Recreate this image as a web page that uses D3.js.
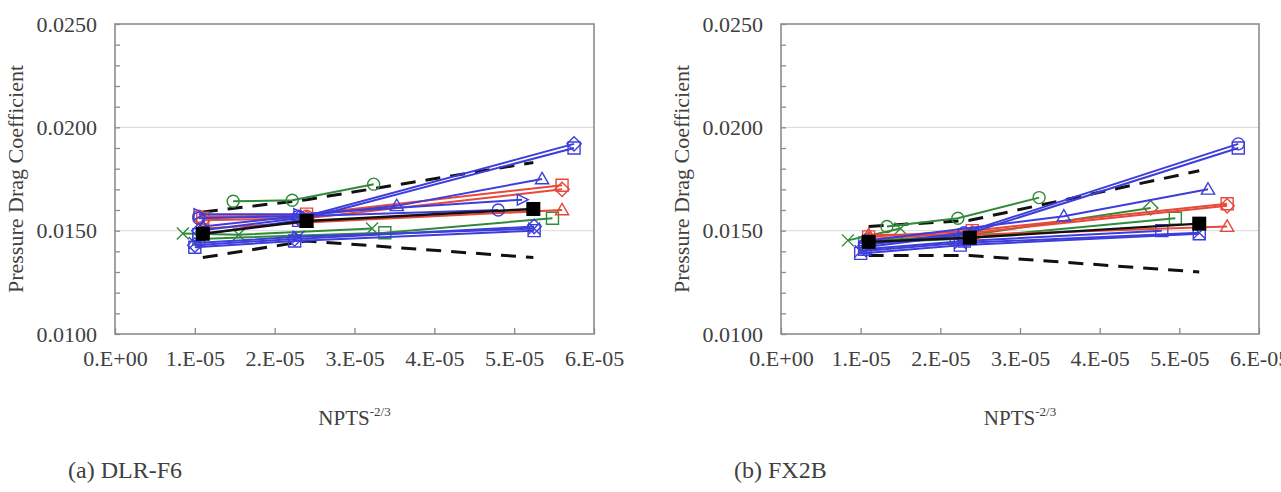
<!DOCTYPE html>
<html><head><meta charset="utf-8">
<script src="https://cdn.jsdelivr.net/npm/d3@7"></script>
<style>
body{margin:0;background:#fff}
svg{display:block}
text{font-family:"Liberation Serif","Times New Roman",serif;fill:#404040}
</style>
</head><body>
<svg id="c" width="1281" height="492"></svg>
<script>
// ---------- tick labels ----------
const xTickValues = [0, 1e-5, 2e-5, 3e-5, 4e-5, 5e-5, 6e-5];
const xTickLabels = ["0.E+00","1.E-05","2.E-05","3.E-05","4.E-05","5.E-05","6.E-05"];
const yTickValues = [0.0100, 0.0150, 0.0200, 0.0250];
const yTickLabels = ["0.0100","0.0150","0.0200","0.0250"];
const yMinorTicks = [0.011,0.012,0.013,0.014,0.016,0.017,0.018,0.019,0.021,0.022,0.023,0.024];
const panelCaptions = ["(a) DLR-F6", "(b) FX2B"];

// ---------- (a) DLR-F6 series: [NPTS^-2/3, CDp] ----------
const f6_blueDiamondHi = [[1.05e-5,0.0150],[2.3e-5,0.0156],[5.75e-5,0.0192]];
const f6_blueSquareHi  = [[1.05e-5,0.0148],[2.3e-5,0.0155],[5.75e-5,0.0190]];
const f6_blueTriangle  = [[1.1e-5,0.0152],[3.53e-5,0.0162],[5.35e-5,0.0175]];
const f6_redSquare     = [[1.1e-5,0.0156],[2.4e-5,0.0158],[5.6e-5,0.0172]];
const f6_redDiamond    = [[1.1e-5,0.0155],[2.4e-5,0.0156],[5.6e-5,0.0170]];
const f6_blueTriSmall  = [[1.05e-5,0.0158],[2.3e-5,0.0158],[5.1e-5,0.0165]];
const f6_blueCircle    = [[1.05e-5,0.0156],[2.3e-5,0.0157],[4.8e-5,0.0160]];
const f6_redTriangle   = [[1.1e-5,0.0151],[2.4e-5,0.0154],[5.6e-5,0.0160]];
const f6_redCircle     = [[1.05e-5,0.0157],[2.4e-5,0.0157]];
const f6_greenCircle   = [[1.48e-5,0.01642],[2.22e-5,0.01647],[3.24e-5,0.01725]];
const f6_greenSquare   = [[1.05e-5,0.0146],[3.38e-5,0.0149],[5.48e-5,0.0156]];
const f6_greenCross    = [[0.85e-5,0.01486],[1.55e-5,0.0148],[3.22e-5,0.0151]];
const f6_blueDiamondLo = [[1.0e-5,0.0143],[2.25e-5,0.0146],[5.25e-5,0.0152]];
const f6_blueSquareLo  = [[1.0e-5,0.0142],[2.25e-5,0.0145],[5.25e-5,0.0150]];
const f6_blueCrossLo   = [[1.0e-5,0.0144],[2.3e-5,0.0147],[5.25e-5,0.0151]];
const f6_mean  = [[1.1e-5,0.01485],[2.4e-5,0.01547],[5.24e-5,0.01605]];
const f6_upper = [[1.1e-5,0.0159],[2.4e-5,0.0165],[5.24e-5,0.0183]];
const f6_lower = [[1.1e-5,0.0137],[2.4e-5,0.0145],[5.24e-5,0.0137]];

// ---------- (b) FX2B series ----------
const fx_blueDiamondHi = [[1.05e-5,0.0143],[2.3e-5,0.0149],[5.74e-5,0.0192]];
const fx_blueSquareHi  = [[1.05e-5,0.0142],[2.3e-5,0.0148],[5.74e-5,0.0190]];
const fx_blueTriangle  = [[1.05e-5,0.0145],[3.55e-5,0.0157],[5.36e-5,0.0170]];
const fx_redSquare     = [[1.1e-5,0.0147],[2.4e-5,0.0150],[5.6e-5,0.0163]];
const fx_redDiamond    = [[1.1e-5,0.0146],[2.4e-5,0.0149],[5.6e-5,0.0162]];
const fx_redTriangle   = [[1.1e-5,0.0148],[2.4e-5,0.0148],[5.6e-5,0.0152]];
const fx_greenCircle   = [[1.33e-5,0.0152],[2.22e-5,0.0156],[3.24e-5,0.0166]];
const fx_greenDiamond  = [[1.1e-5,0.0145],[2.4e-5,0.0148],[4.64e-5,0.0161]];
const fx_greenSquare   = [[1.05e-5,0.0144],[2.2e-5,0.0146],[4.95e-5,0.0156]];
const fx_greenCross    = [[0.84e-5,0.01453],[1.5e-5,0.0151]];
const fx_blueCircle    = [[1.05e-5,0.0141],[2.3e-5,0.0145],[4.78e-5,0.0150]];
const fx_blueSquareLo  = [[1.0e-5,0.0139],[2.25e-5,0.0143],[5.25e-5,0.01485]];
const fx_blueCrossLo   = [[1.0e-5,0.0140],[2.25e-5,0.0144],[5.25e-5,0.0149]];
const fx_mean  = [[1.1e-5,0.01446],[2.37e-5,0.01466],[5.25e-5,0.01534]];
const fx_upper = [[1.1e-5,0.0152],[2.37e-5,0.0155],[5.25e-5,0.0179]];
const fx_lower = [[1.1e-5,0.0138],[2.37e-5,0.0138],[5.25e-5,0.0130]];

// ---------- styles ----------
const COL = {blue:"#3d3ddc", red:"#e8483a", green:"#2f8a3a", black:"#111"};

const panels = [
  {caption: panelCaptions[0], x0:115, x1:594, series:[
    {d:f6_greenCross, c:"green", m:"x"},
    {d:f6_greenSquare, c:"green", m:"square"},
    {d:f6_greenCircle, c:"green", m:"circle"},
    {d:f6_blueCrossLo, c:"blue", m:"x"},
    {d:f6_blueSquareLo, c:"blue", m:"square"},
    {d:f6_blueDiamondLo, c:"blue", m:"diamond"},
    {d:f6_redCircle, c:"red", m:"circle"},
    {d:f6_redTriangle, c:"red", m:"triangle"},
    {d:f6_redDiamond, c:"red", m:"diamond"},
    {d:f6_redSquare, c:"red", m:"square"},
    {d:f6_blueCircle, c:"blue", m:"circle"},
    {d:f6_blueTriSmall, c:"blue", m:"triright"},
    {d:f6_blueTriangle, c:"blue", m:"triangle"},
    {d:f6_blueSquareHi, c:"blue", m:"square"},
    {d:f6_blueDiamondHi, c:"blue", m:"diamond"}
  ], mean:f6_mean, upper:f6_upper, lower:f6_lower},
  {caption: panelCaptions[1], x0:781, x1:1259, series:[
    {d:fx_greenCross, c:"green", m:"x"},
    {d:fx_greenSquare, c:"green", m:"square"},
    {d:fx_greenDiamond, c:"green", m:"diamond"},
    {d:fx_greenCircle, c:"green", m:"circle"},
    {d:fx_blueCrossLo, c:"blue", m:"x"},
    {d:fx_blueSquareLo, c:"blue", m:"square"},
    {d:fx_blueCircle, c:"blue", m:"square"},
    {d:fx_redTriangle, c:"red", m:"triangle"},
    {d:fx_redDiamond, c:"red", m:"diamond"},
    {d:fx_redSquare, c:"red", m:"square"},
    {d:fx_blueTriangle, c:"blue", m:"triangle"},
    {d:fx_blueSquareHi, c:"blue", m:"square"},
    {d:fx_blueDiamondHi, c:"blue", m:"circle"}
  ], mean:fx_mean, upper:fx_upper, lower:fx_lower}
];

const svg = d3.select("#c");
const Y0 = 24, Y1 = 334;

function markerPath(m, s) {
  const h = s/2;
  switch(m) {
    case "square": return `M${-h},${-h}H${h}V${h}H${-h}Z`;
    case "diamond": return `M0,${-h*1.2}L${h*1.2},0L0,${h*1.2}L${-h*1.2},0Z`;
    case "triangle": return `M0,${-h*1.1}L${h*1.1},${h*0.8}L${-h*1.1},${h*0.8}Z`;
    case "triright": return `M${h},0L${-h*0.8},${-h*0.9}L${-h*0.8},${h*0.9}Z`;
    case "x": return `M${-h},${-h}L${h},${h}M${-h},${h}L${h},${-h}`;
    default: return d3.symbol(d3.symbolCircle, Math.PI*h*h)();
  }
}

panels.forEach(p => {
  const x = d3.scaleLinear().domain([0, 6e-5]).range([p.x0, p.x1]);
  const y = d3.scaleLinear().domain([0.01, 0.025]).range([Y1, Y0]);
  const g = svg.append("g");

  // gridlines
  g.selectAll(".grid").data(yTickValues.slice(1, 3)).join("line")
    .attr("x1", p.x0).attr("x2", p.x1)
    .attr("y1", d => y(d)).attr("y2", d => y(d))
    .attr("stroke", "#d9d9d9").attr("stroke-width", 1);

  // y axis (major + minor inward ticks)
  const yAxis = d3.axisLeft(y).tickValues(yTickValues)
    .tickSize(-5).tickPadding(18)
    .tickFormat((d, i) => yTickLabels[i]);
  const ya = g.append("g").attr("transform", `translate(${p.x0},0)`).call(yAxis);
  ya.select(".domain").remove();
  ya.selectAll("line").attr("stroke", "#8c8c8c").attr("stroke-width", 1.3);
  ya.selectAll("text").style("font-size", "22px").attr("fill", "#404040");
  const yMinor = g.append("g").attr("transform", `translate(${p.x0},0)`)
    .call(d3.axisLeft(y).tickValues(yMinorTicks).tickSize(-5).tickFormat(""));
  yMinor.select(".domain").remove();
  yMinor.selectAll("line").attr("stroke", "#8c8c8c").attr("stroke-width", 1.3);

  // x axis
  const xAxis = d3.axisBottom(x).tickValues(xTickValues)
    .tickSize(-6).tickPadding(16)
    .tickFormat((d, i) => xTickLabels[i]);
  const xa = g.append("g").attr("transform", `translate(0,${Y1})`).call(xAxis);
  xa.select(".domain").remove();
  xa.selectAll("line").attr("stroke", "#8c8c8c").attr("stroke-width", 1.3);
  xa.selectAll("text").style("font-size", "22px").attr("fill", "#404040");

  // box
  g.append("rect").attr("x", p.x0).attr("y", Y0)
    .attr("width", p.x1 - p.x0).attr("height", Y1 - Y0)
    .attr("fill", "none").attr("stroke", "#8c8c8c").attr("stroke-width", 1.6);

  const line = d3.line().x(d => x(d[0])).y(d => y(d[1]));

  // dashed bounds
  [p.upper, p.lower].forEach(b => {
    g.append("path").attr("d", line(b)).attr("fill", "none")
      .attr("stroke", "#111").attr("stroke-width", 3)
      .attr("stroke-dasharray", "15,10");
  });

  // colored series
  p.series.forEach(s => {
    const col = COL[s.c];
    g.append("path").attr("d", line(s.d)).attr("fill", "none")
      .attr("stroke", col).attr("stroke-width", 2);
    g.selectAll(null).data(s.d).join("path")
      .attr("transform", d => `translate(${x(d[0])},${y(d[1])})`)
      .attr("d", markerPath(s.m, 12))
      .attr("fill", "none").attr("stroke", col).attr("stroke-width", 1.4);
  });

  // mean
  g.append("path").attr("d", line(p.mean)).attr("fill", "none")
    .attr("stroke", "#111").attr("stroke-width", 2.4);
  g.selectAll(null).data(p.mean).join("rect")
    .attr("x", d => x(d[0]) - 7).attr("y", d => y(d[1]) - 7)
    .attr("width", 14).attr("height", 14).attr("fill", "#000");

  // axis titles
  const cx = (p.x0 + p.x1) / 2;
  g.append("text").attr("transform", `translate(${p.x0 - 92},${(Y0 + Y1) / 2}) rotate(-90)`)
    .attr("text-anchor", "middle").style("font-size", "22px")
    .text("Pressure Drag Coefficient");
  const t = g.append("text").attr("x", cx).attr("y", 425)
    .attr("text-anchor", "middle").style("font-size", "21px");
  t.append("tspan").text("NPTS");
  t.append("tspan").attr("dy", -9).style("font-size", "13px").text("-2/3");

  // caption
  g.append("text").attr("x", p.x0 - 47).attr("y", 478)
    .style("font-size", "24px").attr("fill", "#222").text(p.caption);
});
</script>
</body></html>
